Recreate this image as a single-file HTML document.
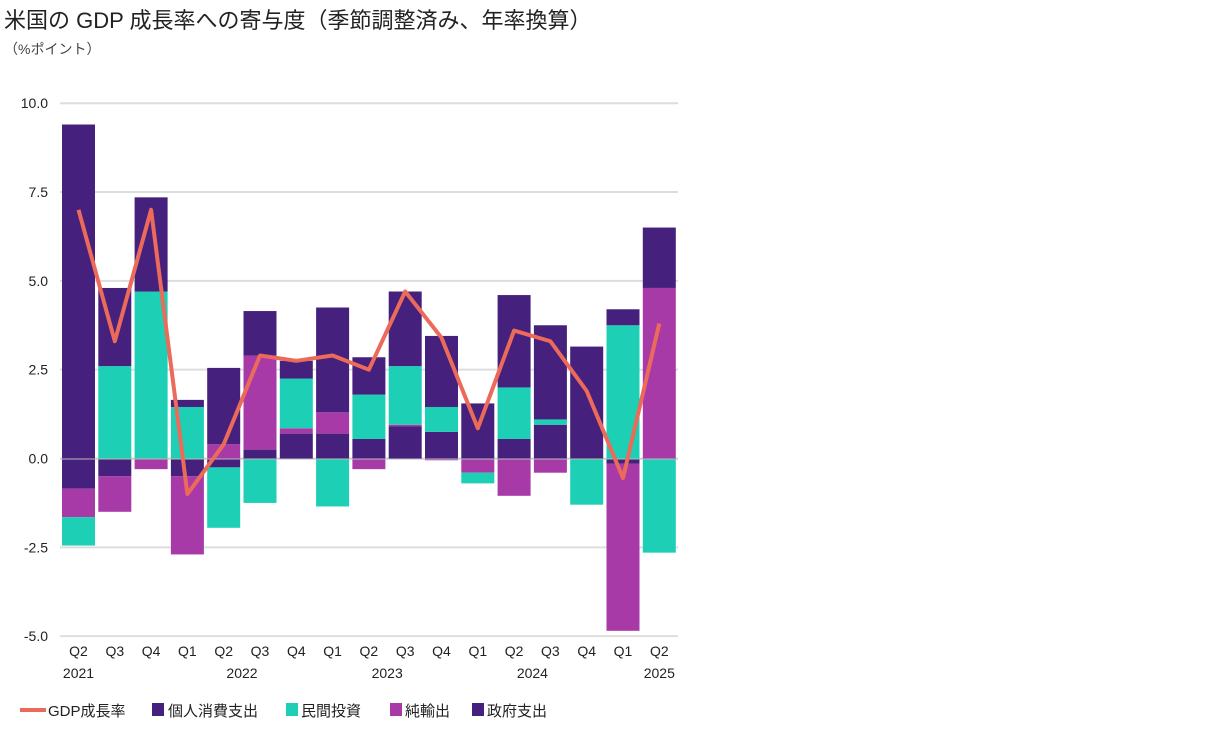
<!DOCTYPE html>
<html><head><meta charset="utf-8"><style>
body{margin:0;background:#fff;width:1222px;height:727px;overflow:hidden;font-family:"Liberation Sans","Noto Sans CJK JP",sans-serif}
</style></head><body>
<svg width="1222" height="727" xmlns="http://www.w3.org/2000/svg" font-family="Liberation Sans, Noto Sans CJK JP, sans-serif">
<text x="4" y="28" font-size="22" fill="#222">米国の GDP 成長率への寄与度（季節調整済み、年率換算）</text>
<text x="4" y="54" font-size="14" fill="#444">（%ポイント）</text>
<g id="grid" stroke="#ddd" stroke-width="2"></g>
<g id="ylab" font-size="14" fill="#222" text-anchor="end"></g>
<g id="bars"></g>
<line x1="60" x2="678" y1="459" y2="459" stroke="#bbb" stroke-width="1"/>
<polyline id="ln" fill="none" stroke="#ec6a5a" stroke-width="4" stroke-linejoin="round"/>
<g id="xlab" font-size="14" fill="#222" text-anchor="middle"></g>
<g font-size="15" fill="#222">
<rect x="20" y="708" width="26" height="4" fill="#ec6a5a"/><text x="48" y="716">GDP成長率</text>
<rect x="152" y="703" width="12" height="13" fill="#45207c"/><text x="168" y="716">個人消費支出</text>
<rect x="286" y="703" width="12" height="13" fill="#1ccfb5"/><text x="301" y="716">民間投資</text>
<rect x="390" y="703" width="12" height="13" fill="#a83aa8"/><text x="405" y="716">純輸出</text>
<rect x="472" y="703" width="12" height="13" fill="#45207c"/><text x="487" y="716">政府支出</text>
</g>
</svg>
<script>
var Z=458.5,S=35.53,ns="http://www.w3.org/2000/svg";
function Y(v){return Z-v*S}
function el(p,t,a,txt){var e=document.createElementNS(ns,t);for(var k in a)e.setAttribute(k,a[k]);if(txt!=null)e.textContent=txt;document.getElementById(p).appendChild(e);}
[10,7.5,5,2.5,0,-2.5,-5].forEach(function(v){el("grid","line",{x1:60,x2:678,y1:Y(v),y2:Y(v)});el("ylab","text",{x:48,y:Y(v)+5},v.toFixed(1));});
var P="#45207c",T="#1ccfb5",M="#a83aa8";
var B=[
[[P,9.4]],[[P,-0.85],[M,-1.65],[T,-2.45]],
[[T,2.6],[P,4.8]],[[P,-0.5],[M,-1.5]],
[[T,4.7],[P,7.35]],[[M,-0.3]],
[[T,1.45],[P,1.65]],[[P,-0.5],[M,-2.7]],
[[M,0.4],[P,2.55]],[[P,-0.25],[T,-1.95]],
[[P,0.25],[M,2.9],[P,4.15]],[[T,-1.25]],
[[P,0.7],[M,0.85],[T,2.25],[P,2.75]],[],
[[P,0.7],[M,1.3],[P,4.25]],[[T,-1.35]],
[[P,0.55],[T,1.8],[P,2.85]],[[M,-0.3]],
[[P,0.9],[M,0.95],[T,2.6],[P,4.7]],[],
[[P,0.75],[T,1.45],[P,3.45]],[[M,-0.05]],
[[P,1.55]],[[M,-0.4],[T,-0.7]],
[[P,0.55],[T,2.0],[P,4.6]],[[M,-1.05]],
[[P,0.95],[T,1.1],[P,3.75]],[[M,-0.4]],
[[P,3.15]],[[T,-1.3]],
[[T,3.75],[P,4.2]],[[P,-0.15],[M,-4.85]],
[[M,4.8],[P,6.5]],[[T,-2.65]]];
var L=[7.0,3.3,7.0,-1.0,0.4,2.9,2.75,2.9,2.5,4.7,3.4,0.85,3.6,3.3,1.9,-0.55,3.8];
var Q=["Q2","Q3","Q4","Q1","Q2","Q3","Q4","Q1","Q2","Q3","Q4","Q1","Q2","Q3","Q4","Q1","Q2"];
var pts=[];
for(var i=0;i<17;i++){var x=62+i*36.3;
 [B[2*i],B[2*i+1]].forEach(function(segs){var prev=0;segs.forEach(function(s){var a=Y(prev),b=Y(s[1]);el("bars","rect",{x:x,y:Math.min(a,b),width:33,height:Math.abs(a-b),fill:s[0]});prev=s[1];});});
 pts.push((x+16.5)+","+Y(L[i]));
 el("xlab","text",{x:x+16.5,y:656},Q[i]);}
document.getElementById("ln").setAttribute("points",pts.join(" "));
[[0,"2021"],[5,"2022"],[9,"2023"],[13,"2024"],[16,"2025"]].forEach(function(a){el("xlab","text",{x:62+a[0]*36.3+16.5+(a[0]==5||a[0]==9||a[0]==13?-18:0),y:678},a[1]);});
</script>
</body></html>
